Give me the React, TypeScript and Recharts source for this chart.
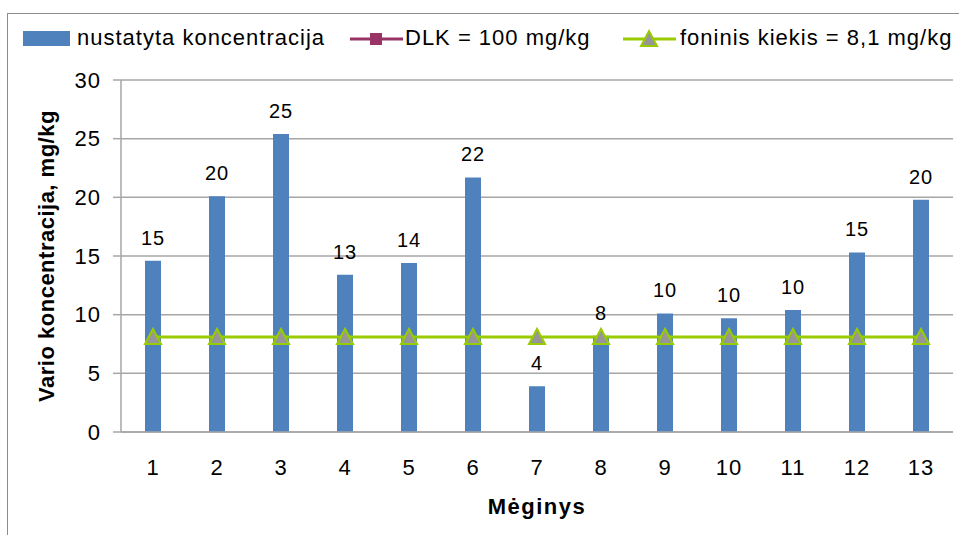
import { ComposedChart, Bar, Line, XAxis, YAxis, CartesianGrid, LabelList } from 'recharts';

const samples = ['1', '2', '3', '4', '5', '6', '7', '8', '9', '10', '11', '12', '13'];
const measured = [14.6, 20.1, 25.4, 13.4, 14.4, 21.7, 3.9, 8.2, 10.1, 9.7, 10.4, 15.3, 19.8];
const dlk = [100, 100, 100, 100, 100, 100, 100, 100, 100, 100, 100, 100, 100];
const background = [8.1, 8.1, 8.1, 8.1, 8.1, 8.1, 8.1, 8.1, 8.1, 8.1, 8.1, 8.1, 8.1];
const yTicks = [0, 5, 10, 15, 20, 25, 30];

const data = samples.map((s, i) => ({ s, measured: measured[i], dlk: dlk[i], bg: background[i] }));

const FONT = '"Liberation Sans", Arial, sans-serif';
const BLUE = '#4f81bd';
const PURPLE = '#993366';
const GREEN = '#99cc00';
const GRID = '#a6a6a6';

const Triangle = (props: any) => {
  const { cx, cy } = props;
  if (cx == null || cy == null) return null;
  return (
    <polygon
      points={`${cx - 8},${cy + 7} ${cx + 8},${cy + 7} ${cx},${cy - 8}`}
      fill="#969696"
      stroke={GREEN}
      strokeWidth={2}
    />
  );
};

const Square = (props: any) => {
  const { cx, cy } = props;
  if (cx == null || cy == null) return null;
  return <rect x={cx - 6} y={cy - 6} width={12} height={12} fill={PURPLE} />;
};

function LegendRow() {
  const text = { fontFamily: FONT, fontSize: 22, letterSpacing: 1, color: '#000', whiteSpace: 'nowrap' as const };
  return (
    <div style={{ position: 'absolute', left: 0, top: 24, width: 959, height: 30 }}>
      <div style={{ position: 'absolute', left: 23, top: 7, width: 47, height: 15, background: BLUE }} />
      <div style={{ ...text, position: 'absolute', left: 77, top: 1 }}>nustatyta koncentracija</div>
      <svg style={{ position: 'absolute', left: 350, top: 0 }} width={54} height={30}>
        <line x1={0} y1={15} x2={53} y2={15} stroke={PURPLE} strokeWidth={3} />
        <rect x={20} y={9} width={12} height={12} fill={PURPLE} />
      </svg>
      <div style={{ ...text, position: 'absolute', left: 405, top: 1 }}>DLK = 100 mg/kg</div>
      <svg style={{ position: 'absolute', left: 623, top: 0 }} width={54} height={30}>
        <line x1={0} y1={15} x2={53} y2={15} stroke={GREEN} strokeWidth={3} />
        <polygon points="18,22 34,22 26,7" fill="#969696" stroke={GREEN} strokeWidth={2} />
      </svg>
      <div style={{ ...text, position: 'absolute', left: 680, top: 1 }}>foninis kiekis = 8,1 mg/kg</div>
    </div>
  );
}

export default function App() {
  return (
    <div style={{ position: 'absolute', left: 0, top: 0, width: 959, height: 535, background: '#fff', overflow: 'hidden' }}>
      <div
        style={{
          position: 'absolute',
          left: 7,
          top: 13,
          width: 960,
          height: 530,
          borderLeft: '1px solid #8c8c8c',
          borderTop: '1px solid #8c8c8c',
        }}
      />
      <LegendRow />
      <div style={{ position: 'absolute', left: 0, top: 0 }}>
        <ComposedChart
          width={959}
          height={535}
          data={data}
          margin={{ top: 80, right: 6, bottom: 0, left: 0 }}
          barCategoryGap={0}
        >
          <CartesianGrid vertical={false} stroke={GRID} strokeWidth={1.5} />
          <XAxis
            dataKey="s"
            height={103}
            tickLine={false}
            tickSize={0}
            tickMargin={27}
            axisLine={{ stroke: GRID, strokeWidth: 1.5 }}
            tick={{ fontFamily: FONT, fontSize: 22, fill: '#000', letterSpacing: 1 }}
            interval={0}
            label={{
              value: 'Mėginys',
              position: 'insideBottom',
              offset: 21,
              style: { fontFamily: FONT, fontSize: 22, fontWeight: 'bold', fill: '#000', letterSpacing: 1.5 },
            }}
          />
          <YAxis
            width={121}
            domain={[0, 30]}
            ticks={yTicks}
            allowDataOverflow
            tickSize={8}
            tickMargin={12}
            tickLine={{ stroke: GRID, strokeWidth: 1.5 }}
            axisLine={{ stroke: GRID, strokeWidth: 1.5 }}
            tick={{ fontFamily: FONT, fontSize: 22, fill: '#000', letterSpacing: 1 }}
            label={{
              value: 'Vario koncentracija, mg/kg',
              angle: -90,
              position: 'center',
              dx: -14,
              style: { fontFamily: FONT, fontSize: 22, fontWeight: 'bold', fill: '#000', textAnchor: 'middle', letterSpacing: 0.5 },
            }}
          />
          <Bar dataKey="measured" fill={BLUE} barSize={16} isAnimationActive={false}>
            <LabelList
              dataKey="measured"
              position="top"
              offset={16}
              formatter={(v: any) => Math.round(Number(v))}
              style={{ fontFamily: FONT, fontSize: 20, fill: '#000', letterSpacing: 1 }}
            />
          </Bar>
          <Line
            dataKey="dlk"
            stroke={PURPLE}
            strokeWidth={3}
            dot={<Square />}
            isAnimationActive={false}
          />
          <Line
            dataKey="bg"
            stroke={GREEN}
            strokeWidth={3}
            dot={<Triangle />}
            activeDot={false}
            isAnimationActive={false}
          />
        </ComposedChart>
      </div>
    </div>
  );
}
